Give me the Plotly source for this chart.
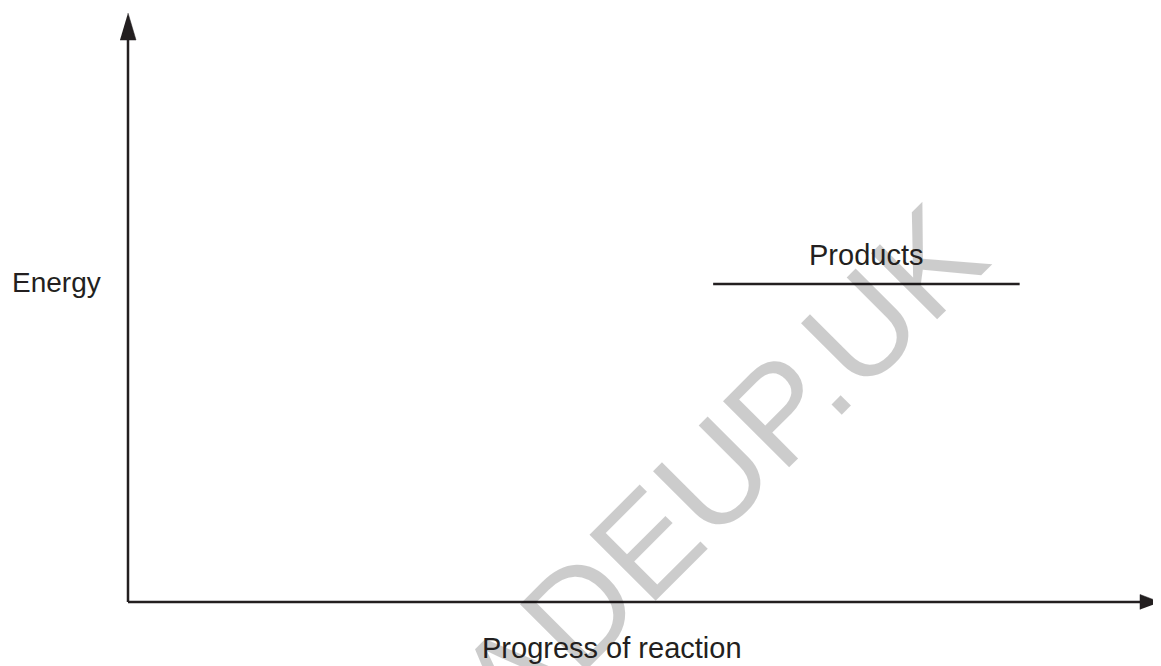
import plotly.graph_objects as go

# ---- data (schematic energy profile) ----
x_range = [0, 10]          # progress of reaction (arbitrary units)
y_range = [0, 10]          # energy (arbitrary units)
products_x = [5.67, 8.64]  # extent of products level
products_y = [5.4, 5.4]    # energy of products
products_label = "Products"
x_title = "Progress of reaction"
y_title = "Energy"
watermark = "MADEUP.UK"

# ---- layout geometry (figure pixels; page body adds an 8px margin) ----
W, H = 1153, 658
AX_L, AX_R, AX_T, AX_B = 120, 1152, 5, 594    # pixel extent of the drawn axes
ppx = (AX_R - AX_L) / (x_range[1] - x_range[0])  # pixels per x unit
ppy = (AX_B - AX_T) / (y_range[1] - y_range[0])  # pixels per y unit
full_x = [x_range[0] - AX_L / ppx, x_range[1] + (W - AX_R) / ppx]
full_y = [y_range[0] - (H - AX_B) / ppy, y_range[1] + AX_T / ppy]

ink = "#231f20"
font_family = "Liberation Sans, Arial, Helvetica, sans-serif"
LW = 2.5

fig = go.Figure()

def add_line(xs, ys):
    fig.add_trace(go.Scatter(x=xs, y=ys, mode="lines", line=dict(color=ink, width=LW),
                             hoverinfo="skip", showlegend=False))

def add_head(xs, ys):
    fig.add_trace(go.Scatter(x=xs, y=ys, mode="lines", fill="toself", fillcolor=ink,
                             line=dict(color=ink, width=0.5),
                             hoverinfo="skip", showlegend=False))

# y axis with arrow head
y_head_len, y_head_half = 27, 8
add_line([x_range[0], x_range[0]], [y_range[0], y_range[1] - y_head_len / ppy])
add_head([x_range[0] - y_head_half / ppx, x_range[0] + y_head_half / ppx, x_range[0]],
         [y_range[1] - y_head_len / ppy, y_range[1] - y_head_len / ppy, y_range[1]])

# x axis with arrow head
x_head_len, x_head_half = 20, 7.5
add_line([x_range[0], x_range[1] - x_head_len / ppx], [y_range[0], y_range[0]])
add_head([x_range[1] - x_head_len / ppx, x_range[1] - x_head_len / ppx, x_range[1]],
         [y_range[0] - x_head_half / ppy, y_range[0] + x_head_half / ppy, y_range[0]])

# products level
add_line(products_x, products_y)

annotations = [
    # watermark (translucent black so the black ink drawn under it stays black)
    dict(text=watermark, x=5.349, y=1.562, xref="x", yref="y", showarrow=False,
         textangle=-45, font=dict(family=font_family, size=136, color="rgba(0,0,0,0.2)"),
         xanchor="center", yanchor="middle"),
    dict(text=products_label, x=sum(products_x) / 2, y=products_y[0], xref="x", yref="y",
         showarrow=False, yanchor="middle", yshift=29,
         font=dict(family=font_family, size=29, color=ink)),
    dict(text=y_title, x=x_range[0], y=products_y[0], xref="x", yref="y",
         showarrow=False, xanchor="center", xshift=-71.5, yshift=1,
         font=dict(family=font_family, size=28, color=ink)),
    dict(text=x_title, x=x_range[0] + (612 - 8 - AX_L) / ppx, y=y_range[0], xref="x", yref="y",
         showarrow=False, yanchor="middle", yshift=-46,
         font=dict(family=font_family, size=29, color=ink)),
]

fig.update_layout(
    width=W, height=H,
    margin=dict(l=0, r=0, t=0, b=0),
    paper_bgcolor="white", plot_bgcolor="white",
    xaxis=dict(range=full_x, visible=False, fixedrange=True),
    yaxis=dict(range=full_y, visible=False, fixedrange=True),
    annotations=annotations,
    showlegend=False,
)

fig.write_html("out.html", config={"displayModeBar": False})
